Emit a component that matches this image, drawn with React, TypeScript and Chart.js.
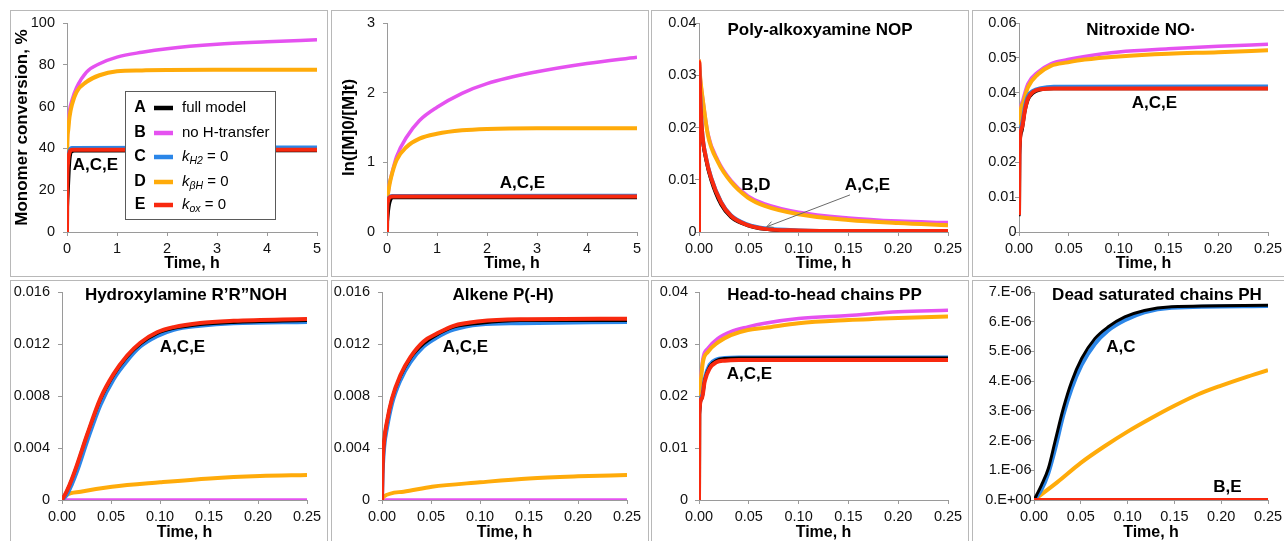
import React, { useEffect, useRef } from 'react';
import { Chart, registerables } from 'chart.js';

Chart.register(...registerables);

const FONT = "'Liberation Sans', Arial, Helvetica, sans-serif";
const AXIS = '#9a9a9a';

type Pt = [number, number];

// ---------- series meta ----------
const SERIES_KEYS = ['A', 'B', 'C', 'D', 'E'];
const SERIES_LABELS = ['full model', 'no H-transfer', 'kH2 = 0', 'kβH = 0', 'kox = 0'];
const SERIES_COLORS = ['#000000', '#e552f0', '#2b86e8', '#ffab0a', '#f8290f'];
const SERIES_WIDTHS = [3, 3.5, 4, 4, 4];
const SERIES_ORDER = [2, 5, 3, 4, 1];

// ---------- tick values ----------
const TICKS_X_LONG = [0, 1, 2, 3, 4, 5];
const TICKS_X_SHORT = [0, 0.05, 0.1, 0.15, 0.2, 0.25];

// ---------- Panel 1: Monomer conversion, % ----------
const conv_A: Pt[] = [[0, 0], [0.01, 12], [0.03, 22], [0.045, 30], [0.06, 35], [0.09, 38.3], [0.15, 38.8], [5, 38.9]];
const conv_B: Pt[] = [[0, 0], [0.005, 40], [0.02, 50], [0.05, 58], [0.1, 63], [0.19, 69], [0.39, 76.5], [0.65, 80.5], [1, 83.7], [1.5, 86], [2, 87.7], [3, 89.8], [4, 91], [5, 92]];
const conv_C: Pt[] = [[0, 0], [0.005, 25], [0.02, 35], [0.05, 39], [0.1, 40.2], [5, 40.4]];
const conv_D: Pt[] = [[0, 0], [0.005, 40], [0.02, 48], [0.05, 55], [0.1, 61], [0.19, 67], [0.39, 71.8], [0.65, 75], [1, 76.9], [1.5, 77.3], [2, 77.5], [3, 77.6], [4, 77.6], [5, 77.6]];
const conv_E: Pt[] = [[0, 0], [0.005, 22], [0.02, 33], [0.05, 38], [0.1, 39.3], [5, 39.4]];

// ---------- Panel 2: ln([M]0/[M]t) ----------
const ln_A: Pt[] = [[0, 0], [0.01, 0.15], [0.03, 0.3], [0.05, 0.4], [0.08, 0.47], [0.12, 0.49], [5, 0.49]];
const ln_B: Pt[] = [[0, 0], [0.005, 0.4], [0.02, 0.55], [0.05, 0.7], [0.08, 0.79], [0.19, 1.08], [0.39, 1.36], [0.65, 1.6], [1, 1.79], [1.5, 1.99], [2, 2.13], [3, 2.3], [4, 2.42], [5, 2.51]];
const ln_C: Pt[] = [[0, 0], [0.005, 0.3], [0.02, 0.45], [0.05, 0.5], [0.1, 0.515], [5, 0.52]];
const ln_D: Pt[] = [[0, 0], [0.005, 0.4], [0.02, 0.55], [0.05, 0.68], [0.08, 0.78], [0.19, 1.03], [0.39, 1.22], [0.65, 1.34], [1, 1.41], [1.5, 1.46], [2, 1.48], [3, 1.49], [4, 1.49], [5, 1.49]];
const ln_E: Pt[] = [[0, 0], [0.005, 0.3], [0.02, 0.44], [0.05, 0.495], [0.1, 0.51], [5, 0.51]];

// ---------- Panel 3: Poly-alkoxyamine NOP ----------
const nop_A: Pt[] = [[0, 0.0325], [0.001, 0.026], [0.003, 0.0188], [0.007, 0.0137], [0.012, 0.0099], [0.022, 0.0052], [0.032, 0.0028], [0.049, 0.0012], [0.066, 0.0005], [0.1, 0.0002], [0.15, 0.0001], [0.25, 0.0001]];
const nop_B: Pt[] = [[0, 0.033], [0.001, 0.03], [0.004, 0.0252], [0.009, 0.0188], [0.019, 0.0137], [0.032, 0.0099], [0.049, 0.0069], [0.066, 0.0054], [0.1, 0.0038], [0.15, 0.0027], [0.2, 0.0021], [0.25, 0.0018]];
const nop_C: Pt[] = [[0, 0.0325], [0.001, 0.027], [0.003, 0.0195], [0.007, 0.0143], [0.012, 0.0105], [0.022, 0.0058], [0.032, 0.0032], [0.049, 0.0014], [0.066, 0.0007], [0.1, 0.0003], [0.15, 0.0002], [0.25, 0.0002]];
const nop_D: Pt[] = [[0, 0.033], [0.001, 0.03], [0.004, 0.025], [0.009, 0.0185], [0.019, 0.0134], [0.032, 0.0096], [0.049, 0.0066], [0.066, 0.005], [0.1, 0.0034], [0.15, 0.0023], [0.2, 0.0017], [0.25, 0.0013]];
const nop_E: Pt[] = [[0, 0], [0.0003, 0.0325], [0.001, 0.027], [0.003, 0.0195], [0.007, 0.0142], [0.012, 0.0104], [0.022, 0.0057], [0.032, 0.0031], [0.049, 0.0013], [0.066, 0.0006], [0.1, 0.0003], [0.15, 0.0002], [0.25, 0.0002]];

// ---------- Panel 4: Nitroxide NO· ----------
const no_A: Pt[] = [[0, 0.0045], [0.0005, 0.022], [0.003, 0.029], [0.006, 0.0345], [0.009, 0.0378], [0.014, 0.0398], [0.022, 0.0408], [0.035, 0.0411], [0.25, 0.0411]];
const no_B: Pt[] = [[0, 0.005], [0.0005, 0.028], [0.001, 0.033], [0.004, 0.038], [0.009, 0.0426], [0.019, 0.0459], [0.032, 0.0483], [0.049, 0.0495], [0.066, 0.0504], [0.1, 0.0517], [0.15, 0.0526], [0.2, 0.0533], [0.25, 0.0539]];
const no_C: Pt[] = [[0, 0.0048], [0.0005, 0.024], [0.003, 0.031], [0.006, 0.036], [0.009, 0.039], [0.014, 0.0405], [0.022, 0.0413], [0.035, 0.0417], [0.25, 0.0418]];
const no_D: Pt[] = [[0, 0.005], [0.0005, 0.028], [0.001, 0.033], [0.004, 0.037], [0.009, 0.0416], [0.019, 0.0453], [0.032, 0.0477], [0.049, 0.0487], [0.066, 0.0495], [0.1, 0.0504], [0.15, 0.0512], [0.2, 0.0516], [0.25, 0.0522]];
const no_E: Pt[] = [[0, 0.0048], [0.0005, 0.0234], [0.003, 0.03], [0.006, 0.035], [0.009, 0.0383], [0.014, 0.0402], [0.022, 0.041], [0.035, 0.0412], [0.25, 0.0412]];

// ---------- Panel 5: Hydroxylamine ----------
const noh_A: Pt[] = [[0, 0], [0.005, 0.0007], [0.01, 0.0016], [0.0153, 0.0027], [0.0255, 0.005], [0.0391, 0.0077], [0.0527, 0.0096], [0.0663, 0.011], [0.0799, 0.012], [0.0969, 0.0128], [0.114, 0.0132], [0.141, 0.0135], [0.175, 0.01366], [0.25, 0.0138]];
const noh_B: Pt[] = [[0, 0], [0.25, 0]];
const noh_C: Pt[] = [[0, 0], [0.005, 0.0004], [0.01, 0.0012], [0.0153, 0.0022], [0.0255, 0.0045], [0.0391, 0.0073], [0.0527, 0.0093], [0.0663, 0.0107], [0.0799, 0.0118], [0.0969, 0.0126], [0.114, 0.0131], [0.141, 0.0134], [0.175, 0.0136], [0.25, 0.0137]];
const noh_D: Pt[] = [[0, 0], [0.005, 0.0004], [0.019, 0.00064], [0.051, 0.00102], [0.1, 0.00136], [0.151, 0.00166], [0.202, 0.00184], [0.25, 0.00192]];
const noh_E: Pt[] = [[0, 0], [0.005, 0.0007], [0.01, 0.0016], [0.0153, 0.0027], [0.0255, 0.005], [0.0391, 0.0078], [0.0527, 0.0097], [0.0663, 0.0111], [0.0799, 0.0121], [0.0969, 0.0129], [0.114, 0.0133], [0.141, 0.01362], [0.175, 0.01378], [0.25, 0.01392]];

// ---------- Panel 6: Alkene P(-H) ----------
const alk_A: Pt[] = [[0, 0], [0.0007, 0.0027], [0.0024, 0.0047], [0.005, 0.006], [0.0102, 0.0078], [0.0187, 0.0095], [0.029, 0.0109], [0.0424, 0.012], [0.056, 0.0127], [0.073, 0.0133], [0.1, 0.0136], [0.141, 0.0138], [0.25, 0.0138]];
const alk_B: Pt[] = [[0, 0], [0.25, 0]];
const alk_C: Pt[] = [[0, 0], [0.0007, 0.0022], [0.0024, 0.0042], [0.005, 0.0055], [0.0102, 0.0074], [0.0187, 0.0092], [0.029, 0.0106], [0.0424, 0.0118], [0.056, 0.0125], [0.073, 0.0131], [0.1, 0.0135], [0.141, 0.0136], [0.25, 0.0137]];
const alk_D: Pt[] = [[0, 0], [0.0017, 0.00026], [0.022, 0.00064], [0.051, 0.00102], [0.1, 0.00136], [0.15, 0.00166], [0.2, 0.00182], [0.25, 0.00192]];
const alk_E: Pt[] = [[0, 0], [0.0007, 0.0027], [0.0024, 0.0047], [0.005, 0.006], [0.0102, 0.0078], [0.0187, 0.0096], [0.029, 0.011], [0.0424, 0.0122], [0.056, 0.0128], [0.073, 0.0134], [0.1, 0.01375], [0.141, 0.0139], [0.25, 0.01395]];

// ---------- Panel 7: Head-to-head chains PP ----------
const pp_A: Pt[] = [[0, 0], [0.0003, 0.016], [0.003, 0.0195], [0.0057, 0.023], [0.0107, 0.0257], [0.0174, 0.0268], [0.0258, 0.0272], [0.04, 0.0273], [0.25, 0.0273]];
const pp_B: Pt[] = [[0, 0], [0.0003, 0.018], [0.001, 0.022], [0.004, 0.0273], [0.009, 0.0292], [0.019, 0.0311], [0.032, 0.0324], [0.049, 0.0333], [0.066, 0.034], [0.1, 0.0349], [0.15, 0.0355], [0.2, 0.0362], [0.25, 0.0365]];
const pp_C: Pt[] = [[0, 0], [0.0003, 0.0165], [0.003, 0.02], [0.0057, 0.0233], [0.0107, 0.026], [0.0174, 0.027], [0.0258, 0.0273], [0.04, 0.0274], [0.25, 0.0274]];
const pp_D: Pt[] = [[0, 0], [0.0003, 0.018], [0.001, 0.0215], [0.004, 0.0266], [0.009, 0.0285], [0.019, 0.0303], [0.032, 0.0317], [0.049, 0.0327], [0.066, 0.0331], [0.1, 0.034], [0.15, 0.0346], [0.2, 0.035], [0.25, 0.0353]];
const pp_E: Pt[] = [[0, 0], [0.0003, 0.0164], [0.003, 0.0196], [0.0057, 0.0228], [0.0107, 0.0253], [0.0174, 0.0265], [0.0258, 0.0268], [0.04, 0.0269], [0.25, 0.0269]];

// ---------- Panel 8: Dead saturated chains PH ----------
const ph_A: Pt[] = [[0, 0], [0.0028, 0.17e-6], [0.008, 0.5e-6], [0.0153, 1.06e-6], [0.0224, 1.96e-6], [0.0313, 3.08e-6], [0.0402, 3.98e-6], [0.0509, 4.76e-6], [0.065, 5.43e-6], [0.079, 5.82e-6], [0.097, 6.16e-6], [0.118, 6.38e-6], [0.147, 6.5e-6], [0.25, 6.55e-6]];
const ph_B: Pt[] = [[0, 0], [0.25, 0]];
const ph_C: Pt[] = [[0, 0], [0.0028, 0.1e-6], [0.008, 0.35e-6], [0.0153, 0.9e-6], [0.0224, 1.7e-6], [0.0313, 2.85e-6], [0.0402, 3.75e-6], [0.0509, 4.55e-6], [0.065, 5.25e-6], [0.079, 5.7e-6], [0.097, 6.05e-6], [0.118, 6.32e-6], [0.147, 6.47e-6], [0.25, 6.53e-6]];
const ph_D: Pt[] = [[0, 0], [0.025, 0.6e-6], [0.05, 1.25e-6], [0.075, 1.8e-6], [0.1, 2.3e-6], [0.125, 2.75e-6], [0.15, 3.17e-6], [0.175, 3.55e-6], [0.2, 3.85e-6], [0.225, 4.12e-6], [0.25, 4.37e-6]];
const ph_E: Pt[] = [[0, 0], [0.25, 0]];

// ---------- layout ----------
const PANEL_W = 318;
const PANEL_H = 267;
const CANVAS_W = PANEL_W - 2;
const CANVAS_H = PANEL_H - 2;

type Note = { text: string; x: number; y: number; size?: number };
type Arrow = { x1: number; y1: number; x2: number; y2: number };
type PanelCfg = {
  id: string;
  left: number;
  top: number;
  plot: { left: number; right: number; top: number; bottom: number };
  xTicks: number[];
  xFmt: (v: number) => string;
  yMax: number;
  yStep: number;
  yFmt: (v: number) => string;
  yGap: number;
  yTitle?: string;
  yTitlePad?: number;
  xTickPad: number;
  xTitlePad: number;
  series: Pt[][];
  notes: Note[];
  arrow?: Arrow;
  legend?: boolean;
};

const fmtInt = (v: number) => String(Math.round(v));
const fmt2 = (v: number) => v.toFixed(2);
const fmtY2 = (v: number) => (Math.abs(v) < 1e-12 ? '0' : v.toFixed(2));
const fmtY3 = (v: number) => (Math.abs(v) < 1e-12 ? '0' : v.toFixed(3));
const fmtE = (v: number) => (Math.abs(v) < 1e-15 ? '0.E+00' : `${Math.round(v * 1e6)}.E-06`);

const PANELS: PanelCfg[] = [
  {
    id: 'conv', left: 10, top: 10, plot: { left: 67, right: 317, top: 23, bottom: 232 },
    xTicks: TICKS_X_LONG, xFmt: fmtInt, yMax: 100, yStep: 20, yFmt: fmtInt, yGap: 12,
    yTitle: 'Monomer conversion, %', yTitlePad: 1, xTickPad: 4.6, xTitlePad: 2.4,
    series: [conv_A, conv_B, conv_C, conv_D, conv_E],
    notes: [{ text: 'A,C,E', x: 0.57, y: 32 }], legend: true,
  },
  {
    id: 'ln', left: 331, top: 10, plot: { left: 387, right: 637, top: 23, bottom: 232 },
    xTicks: TICKS_X_LONG, xFmt: fmtInt, yMax: 3, yStep: 1, yFmt: fmtInt, yGap: 12,
    yTitle: 'ln([M]0/[M]t)', yTitlePad: 7, xTickPad: 4.6, xTitlePad: 2.4,
    series: [ln_A, ln_B, ln_C, ln_D, ln_E],
    notes: [{ text: 'A,C,E', x: 2.71, y: 0.7 }],
  },
  {
    id: 'nop', left: 651, top: 10, plot: { left: 699, right: 948, top: 23, bottom: 232 },
    xTicks: TICKS_X_SHORT, xFmt: fmt2, yMax: 0.04, yStep: 0.01, yFmt: fmtY2, yGap: 2.5,
    xTickPad: 4.6, xTitlePad: 2.4,
    series: [nop_A, nop_B, nop_C, nop_D, nop_E],
    notes: [
      { text: 'Poly-alkoxyamine NOP', x: 0.1215, y: 0.03866 },
      { text: 'B,D', x: 0.0572, y: 0.009 },
      { text: 'A,C,E', x: 0.1692, y: 0.009 },
    ],
    arrow: { x1: 0.1516, y1: 0.0071, x2: 0.068, y2: 0.00101 },
  },
  {
    id: 'no', left: 972, top: 10, plot: { left: 1019, right: 1268, top: 23, bottom: 232 },
    xTicks: TICKS_X_SHORT, xFmt: fmt2, yMax: 0.06, yStep: 0.01, yFmt: fmtY2, yGap: 2.5,
    xTickPad: 4.6, xTitlePad: 2.4,
    series: [no_A, no_B, no_C, no_D, no_E],
    notes: [
      { text: 'Nitroxide NO·', x: 0.1225, y: 0.058 },
      { text: 'A,C,E', x: 0.136, y: 0.037 },
    ],
  },
  {
    id: 'noh', left: 10, top: 280, plot: { left: 62, right: 307, top: 292, bottom: 500 },
    xTicks: TICKS_X_SHORT, xFmt: fmt2, yMax: 0.016, yStep: 0.004, yFmt: fmtY3, yGap: 12,
    xTickPad: 4, xTitlePad: 3.4,
    series: [noh_A, noh_B, noh_C, noh_D, noh_E],
    notes: [
      { text: 'Hydroxylamine R’R”NOH', x: 0.1265, y: 0.01577 },
      { text: 'A,C,E', x: 0.123, y: 0.01177 },
    ],
  },
  {
    id: 'alk', left: 331, top: 280, plot: { left: 382, right: 627, top: 292, bottom: 500 },
    xTicks: TICKS_X_SHORT, xFmt: fmt2, yMax: 0.016, yStep: 0.004, yFmt: fmtY3, yGap: 12,
    xTickPad: 4, xTitlePad: 3.4,
    series: [alk_A, alk_B, alk_C, alk_D, alk_E],
    notes: [
      { text: 'Alkene P(-H)', x: 0.1235, y: 0.01577 },
      { text: 'A,C,E', x: 0.0852, y: 0.01177 },
    ],
  },
  {
    id: 'pp', left: 651, top: 280, plot: { left: 699, right: 948, top: 292, bottom: 500 },
    xTicks: TICKS_X_SHORT, xFmt: fmt2, yMax: 0.04, yStep: 0.01, yFmt: fmtY2, yGap: 11,
    xTickPad: 4, xTitlePad: 3.4,
    series: [pp_A, pp_B, pp_C, pp_D, pp_E],
    notes: [
      { text: 'Head-to-head chains PP', x: 0.126, y: 0.03942 },
      { text: 'A,C,E', x: 0.0507, y: 0.0242 },
    ],
  },
  {
    id: 'ph', left: 972, top: 280, plot: { left: 1034, right: 1268, top: 292, bottom: 500 },
    xTicks: TICKS_X_SHORT, xFmt: fmt2, yMax: 7e-6, yStep: 1e-6, yFmt: fmtE, yGap: 2.5,
    xTickPad: 4, xTitlePad: 3.4,
    series: [ph_A, ph_B, ph_C, ph_D, ph_E],
    notes: [
      { text: 'Dead saturated chains PH', x: 0.1314, y: 6.9e-6 },
      { text: 'A,C', x: 0.0929, y: 5.15e-6 },
      { text: 'B,E', x: 0.2067, y: 0.44e-6 },
    ],
  },
];

// legend pieces: [text, italic, subscript]
type Piece = [string, boolean, boolean];
const LEGEND_PIECES: Piece[][] = [
  [['full model', false, false]],
  [['no H-transfer', false, false]],
  [['k', true, false], ['H2', true, true], [' = 0', false, false]],
  [['k', true, false], ['βH', true, true], [' = 0', false, false]],
  [['k', true, false], ['ox', true, true], [' = 0', false, false]],
];

function drawLegend(chart: any) {
  const { ctx, chartArea } = chart;
  const bx = Math.round(chartArea.left + 58);
  const by = Math.round(chartArea.top + 68);
  const bw = 151;
  const bh = 129;
  const rowY = [17, 42, 66, 91, 114];
  ctx.save();
  ctx.fillStyle = '#ffffff';
  ctx.fillRect(bx, by, bw, bh);
  ctx.strokeStyle = '#5a5a5a';
  ctx.lineWidth = 1;
  ctx.strokeRect(bx + 0.5, by + 0.5, bw - 1, bh - 1);
  SERIES_KEYS.forEach((key, i) => {
    const y = by + rowY[i];
    ctx.fillStyle = '#000';
    ctx.textBaseline = 'middle';
    ctx.textAlign = 'center';
    ctx.font = `bold 16px ${FONT}`;
    ctx.fillText(key, bx + 15, y);
    ctx.strokeStyle = SERIES_COLORS[i];
    ctx.lineWidth = 4.5;
    ctx.lineCap = 'butt';
    ctx.beginPath();
    ctx.moveTo(bx + 29, y);
    ctx.lineTo(bx + 48, y);
    ctx.stroke();
    ctx.textAlign = 'left';
    let x = bx + 57;
    for (const [t, it, sub] of LEGEND_PIECES[i]) {
      const size = sub ? 10.5 : 15;
      ctx.font = `${it ? 'italic ' : ''}${size}px ${FONT}`;
      ctx.fillText(t, x, sub ? y + 4 : y);
      x += ctx.measureText(t).width;
    }
  });
  ctx.restore();
}

function makeNotesPlugin(cfg: PanelCfg) {
  return {
    id: 'notes',
    afterDatasetsDraw(chart: any) {
      const { ctx } = chart;
      const xs = chart.scales.x;
      const ys = chart.scales.y;
      ctx.save();
      if (cfg.arrow) {
        const a = cfg.arrow;
        const x1 = xs.getPixelForValue(a.x1);
        const y1 = ys.getPixelForValue(a.y1);
        const x2 = xs.getPixelForValue(a.x2);
        const y2 = ys.getPixelForValue(a.y2);
        ctx.strokeStyle = '#6a6a6a';
        ctx.lineWidth = 1;
        ctx.beginPath();
        ctx.moveTo(x1, y1);
        ctx.lineTo(x2, y2);
        const ang = Math.atan2(y2 - y1, x2 - x1);
        const hl = 7;
        ctx.moveTo(x2, y2);
        ctx.lineTo(x2 - hl * Math.cos(ang - 0.45), y2 - hl * Math.sin(ang - 0.45));
        ctx.moveTo(x2, y2);
        ctx.lineTo(x2 - hl * Math.cos(ang + 0.45), y2 - hl * Math.sin(ang + 0.45));
        ctx.stroke();
      }
      ctx.fillStyle = '#000';
      ctx.textAlign = 'center';
      ctx.textBaseline = 'middle';
      for (const n of cfg.notes) {
        ctx.font = `bold ${n.size || 17}px ${FONT}`;
        ctx.fillText(n.text, xs.getPixelForValue(n.x), ys.getPixelForValue(n.y));
      }
      ctx.restore();
      if (cfg.legend) drawLegend(chart);
    },
  };
}

function Panel({ cfg }: { cfg: PanelCfg }) {
  const ref = useRef<HTMLCanvasElement>(null);
  useEffect(() => {
    const canvas = ref.current;
    if (!canvas) return;
    const cL = cfg.left + 1;
    const cT = cfg.top + 1;
    const yW = cfg.plot.left - cL;
    const xH = cT + CANVAS_H - cfg.plot.bottom;
    const tickLen = 4;
    const xMax = cfg.xTicks[cfg.xTicks.length - 1];
    const xStep = cfg.xTicks[1] - cfg.xTicks[0];
    const chart = new Chart(canvas, {
      type: 'line',
      data: {
        datasets: SERIES_KEYS.map((k, i) => ({
          label: SERIES_LABELS[i],
          data: cfg.series[i].map(([x, y]) => ({ x, y })),
          borderColor: SERIES_COLORS[i],
          backgroundColor: SERIES_COLORS[i],
          borderWidth: SERIES_WIDTHS[i],
          pointRadius: 0,
          pointHoverRadius: 0,
          fill: false,
          cubicInterpolationMode: 'monotone',
          order: SERIES_ORDER[i],
        })),
      },
      options: {
        responsive: false,
        animation: false,
        devicePixelRatio: 1,
        events: [],
        layout: {
          padding: { left: 0, bottom: 0, top: cfg.plot.top - cT, right: cL + CANVAS_W - cfg.plot.right },
        },
        plugins: {
          legend: { display: false },
          tooltip: { enabled: false },
          title: { display: false },
        },
        scales: {
          x: {
            type: 'linear',
            min: 0,
            max: xMax,
            afterFit: (s: any) => {
              s.height = xH;
              s.paddingLeft = 0;
              s.paddingRight = 0;
            },
            border: { display: true, color: AXIS, width: 1 },
            grid: { drawOnChartArea: false, drawTicks: true, tickLength: tickLen, color: AXIS },
            ticks: {
              stepSize: xStep,
              autoSkip: false,
              maxRotation: 0,
              padding: cfg.xTickPad,
              color: '#111',
              font: { family: FONT, size: 14.5 },
              callback: (v: any) => cfg.xFmt(Number(v)),
            },
            title: {
              display: true,
              text: 'Time, h',
              color: '#000',
              font: { family: FONT, size: 16, weight: 'bold' },
              padding: { top: 0, bottom: cfg.xTitlePad },
            },
          },
          y: {
            type: 'linear',
            min: 0,
            max: cfg.yMax,
            afterFit: (s: any) => {
              s.width = yW;
              s.paddingTop = 0;
              s.paddingBottom = 0;
            },
            border: { display: true, color: AXIS, width: 1 },
            grid: { drawOnChartArea: false, drawTicks: true, tickLength: tickLen, color: AXIS },
            ticks: {
              stepSize: cfg.yStep,
              autoSkip: false,
              padding: cfg.yGap - tickLen,
              color: '#111',
              font: { family: FONT, size: 14.5 },
              callback: (v: any) => cfg.yFmt(Number(v)),
            },
            title: {
              display: !!cfg.yTitle,
              text: cfg.yTitle || '',
              color: '#000',
              font: { family: FONT, size: 17, weight: 'bold' },
              padding: { top: cfg.yTitlePad || 0, bottom: 0 },
            },
          },
        },
      },
      plugins: [makeNotesPlugin(cfg)],
    } as any);
    return () => chart.destroy();
  }, [cfg]);

  return (
    <div
      style={{
        position: 'absolute',
        left: cfg.left,
        top: cfg.top,
        width: PANEL_W,
        height: PANEL_H,
        border: '1px solid #b8b8b8',
        boxSizing: 'border-box',
        background: '#fff',
      }}
    >
      <canvas ref={ref} width={CANVAS_W} height={CANVAS_H} style={{ display: 'block', width: CANVAS_W, height: CANVAS_H }} />
    </div>
  );
}

export default function App() {
  return (
    <div
      style={{
        position: 'fixed',
        left: 0,
        top: 0,
        width: 1284,
        height: 541,
        overflow: 'hidden',
        background: '#fff',
      }}
    >
      {PANELS.map((p) => (
        <Panel key={p.id} cfg={p} />
      ))}
    </div>
  );
}
